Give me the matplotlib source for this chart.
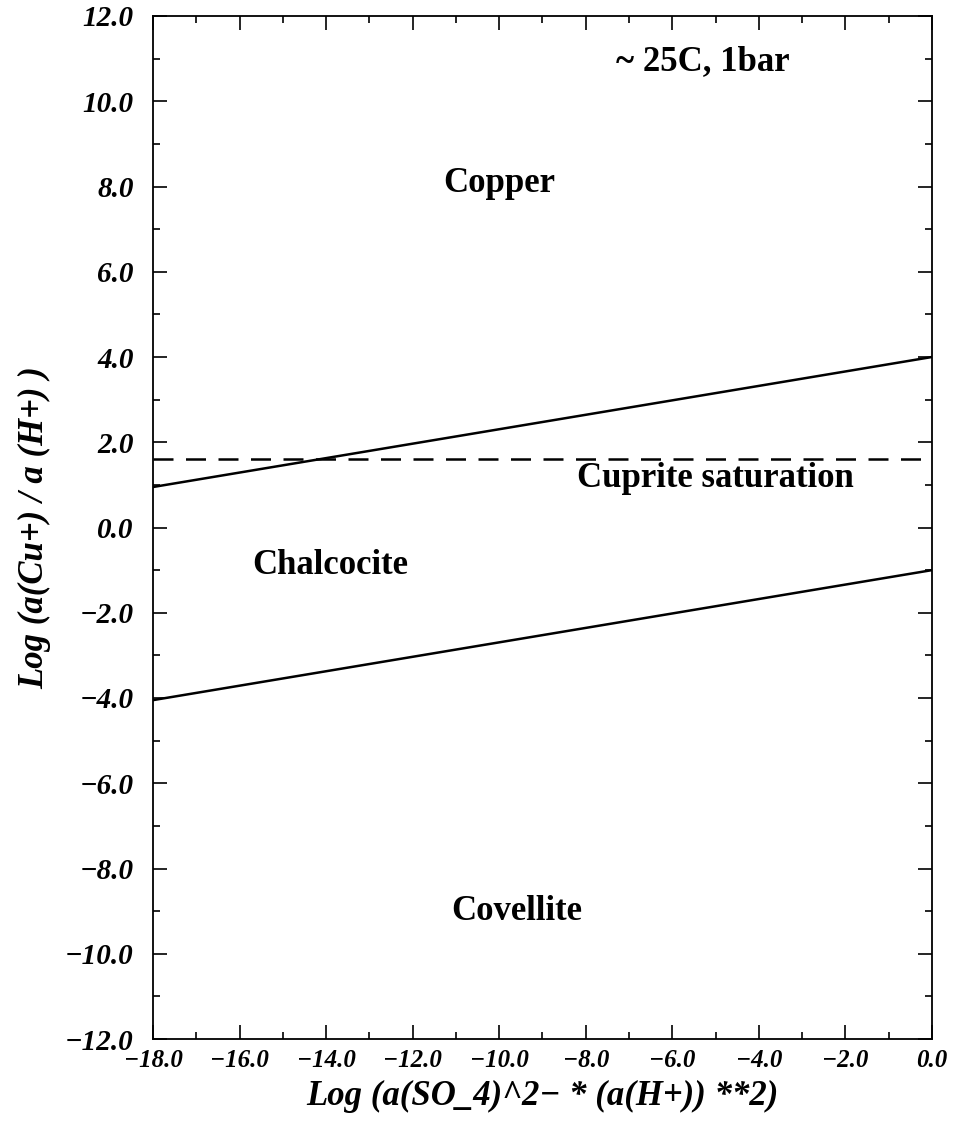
import matplotlib as mpl
mpl.use('Agg')
import matplotlib.pyplot as plt
import numpy as np
from matplotlib.ticker import MultipleLocator

# Boundary lines (x endpoints, y endpoints)
x_ends = [-18.0, 0.0]
copper_chalcocite = [0.95, 4.0]
chalcocite_covellite = [-4.05, -1.0]
cuprite_sat = 1.6

# Region labels
labels = ['~ 25C, 1bar', 'Copper', 'Cuprite saturation', 'Chalcocite', 'Covellite']
label_x = [-5.3, -10.0, -5.0, -13.9, -9.6]
label_y = [10.92, 8.08, 1.14, -0.9, -9.02]

# Major ticks
xticks = np.arange(-18, 1, 2)
yticks = np.arange(-12, 13, 2)

plt.rcParams['font.family'] = ['Liberation Serif', 'DejaVu Serif']

def fmt(v):
    return ('%.1f' % v).replace('-', '\u2212')

fig = plt.figure(figsize=(9.54, 11.22), dpi=100)
ax = fig.add_axes([153/954, 1-1039/1122, 779/954, 1023/1122])

ax.plot(x_ends, copper_chalcocite, color='black', lw=1.8)
ax.plot(x_ends, chalcocite_covellite, color='black', lw=1.8)
ax.axhline(cuprite_sat, color='black', lw=1.8, dashes=(8, 5))

for t, x, y in zip(labels, label_x, label_y):
    ax.text(x, y, t, ha='center', va='center', fontsize=25, fontweight='bold')

ax.set_xlim(-18, 0)
ax.set_ylim(-12, 12)
ax.set_xticks(xticks, [fmt(v) for v in xticks], fontsize=18,
              fontweight='bold', fontstyle='italic')
ax.set_yticks(yticks, [fmt(v) for v in yticks], fontsize=21,
              fontweight='bold', fontstyle='italic')
ax.xaxis.set_minor_locator(MultipleLocator(1))
ax.yaxis.set_minor_locator(MultipleLocator(1))
ax.tick_params(which='both', direction='in', top=True, right=True, width=1.2)
ax.tick_params(which='major', length=10)
ax.tick_params(which='minor', length=5)
ax.tick_params(axis='y', which='major', pad=14)
ax.tick_params(axis='x', which='major', pad=7)
for s in ax.spines.values():
    s.set_linewidth(1.3)

ax.set_xlabel('Log (a(SO_4)^2\u2212 * (a(H+)) **2)', fontsize=25, labelpad=6,
              fontweight='bold', fontstyle='italic')
ax.set_ylabel('Log (a(Cu+) / a (H+) )', fontsize=25, labelpad=10,
              fontweight='bold', fontstyle='italic')

fig.savefig('out.png', dpi=100)
